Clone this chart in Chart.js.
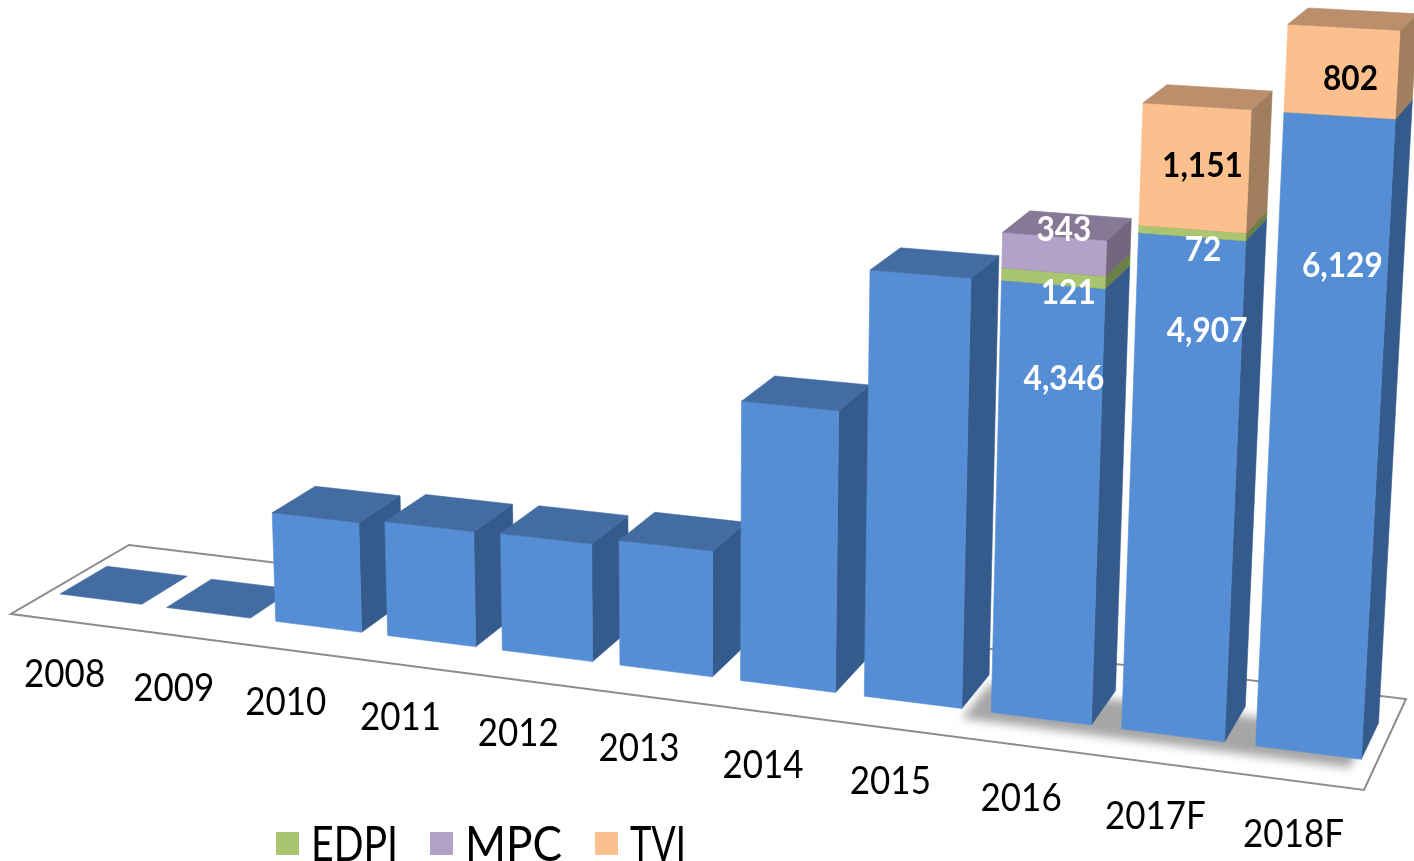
<!DOCTYPE html>
<html>
<head>
<meta charset="utf-8">
<title>Stacked columns</title>
<script src="https://cdn.jsdelivr.net/npm/chart.js@4"></script>
<style>
  html, body { margin: 0; background: #fff; }
  canvas { display: block; }
</style>
</head>
<body>
<canvas id="chart" width="1414" height="861"></canvas>
<script>
const categories = ['2008', '2009', '2010', '2011', '2012', '2013', '2014', '2015', '2016', '2017F', '2018F'];
const baseValues = [0, 0, 1200, 1245, 1260, 1330, 2910, 4340, 4346, 4907, 6129];
const edpiValues = [0, 0, 0, 0, 0, 0, 0, 0, 121, 72, 0];
const mpcValues = [0, 0, 0, 0, 0, 0, 0, 0, 343, 0, 0];
const tviValues = [0, 0, 0, 0, 0, 0, 0, 0, 0, 1151, 802];

// face colours: front, side, top
const faces = [
  ['#558ed5', '#355b8c', '#426ca2'],
  ['#a9c56f', '#6b7f46', '#7f9454'],
  ['#b3a2c7', '#72677f', '#867995'],
  ['#fcc08e', '#a07e5e', '#bb8e6c']
];

// pixel nudge of each value label from the middle of its front face
const labelNudge = {
  '0-8': [17, -126], '0-9': [25, -160], '0-10': [19, -176],
  '1-8': [15, 15], '1-9': [11, 17],
  '2-8': [10, -24],
  '3-9': [8, -2], '3-10': [9, 7]
};

// floor corners on screen, and the point the uprights run towards
const floorQuad = [[11, 614], [1364, 790], [1406, 699], [129, 545]];
const uprightVanish = [694, 13300];
const barFront = 0.30;
const barBack = 0.70;
const axisFont = '38px Lato';
const valueFont = 'bold 34px Lato';
const legendFont = '48px Lato';
// legend: left edge of each swatch and the width of its text
const legendLeft = [276, 430, 595];
const legendTextWidth = [87, 97, 56];

function floorMatrix(q) {
  const [[x0, y0], [x1, y1], [x2, y2], [x3, y3]] = q;
  const dx1 = x1 - x2, dx2 = x3 - x2, sx = x0 - x1 + x2 - x3;
  const dy1 = y1 - y2, dy2 = y3 - y2, sy = y0 - y1 + y2 - y3;
  const den = dx1 * dy2 - dx2 * dy1;
  const g = (sx * dy2 - dx2 * sy) / den;
  const h = (dx1 * sy - sx * dy1) / den;
  return {
    a: x1 - x0 + g * x1, b: x3 - x0 + h * x3, c: x0,
    d: y1 - y0 + g * y1, e: y3 - y0 + h * y3, f: y0,
    g, h
  };
}

const fm = floorMatrix(floorQuad);
let upScale = 0;

// u: 0-1 along the category axis, v: chart value, z: 0-1 floor depth
function project(u, v, z) {
  const w = fm.g * u + fm.h * z + 1 + upScale * v;
  return [
    (fm.a * u + fm.b * z + fm.c + upScale * uprightVanish[0] * v) / w,
    (fm.d * u + fm.e * z + fm.f + upScale * uprightVanish[1] * v) / w
  ];
}

// the top of the 6,129 front face sits at y = 112 on screen
function calibrate(u, v, z, screenY) {
  const y0 = fm.d * u + fm.e * z + fm.f;
  const w0 = fm.g * u + fm.h * z + 1;
  upScale = (y0 - screenY * w0) / (v * (screenY - uprightVanish[1]));
}
calibrate(10.115 / 11, 6129, barFront, 112);

function fillPoly(ctx, pts, color) {
  ctx.beginPath();
  pts.forEach((p, i) => (i ? ctx.lineTo(p[0], p[1]) : ctx.moveTo(p[0], p[1])));
  ctx.closePath();
  ctx.fillStyle = color;
  ctx.strokeStyle = color;
  ctx.lineWidth = 0.6;
  ctx.fill();
  ctx.stroke();
}

const perspectivePlugin = {
  id: 'perspective',
  beforeDatasetsDraw(chart) {
    const { ctx } = chart;
    // floor plate
    ctx.save();
    ctx.beginPath();
    floorQuad.forEach((p, i) => (i ? ctx.lineTo(p[0], p[1]) : ctx.moveTo(p[0], p[1])));
    ctx.closePath();
    ctx.fillStyle = '#fff';
    ctx.fill();
    ctx.strokeStyle = '#8c8c8c';
    ctx.lineWidth = 2;
    ctx.stroke();
    // soft shadow under the three stacked columns
    ctx.filter = 'blur(5px)';
    ctx.beginPath();
    [[0.722, 0.2], [0.985, 0.2], [0.985, 0.6], [0.722, 0.6]].forEach((c, i) => {
      const p = project(c[0], 0, c[1]);
      if (i) { ctx.lineTo(p[0], p[1]); } else { ctx.moveTo(p[0], p[1]); }
    });
    ctx.closePath();
    ctx.fillStyle = '#a6a6a6';
    ctx.fill();
    ctx.restore();
  },
  afterDatasetsDraw(chart) {
    const { ctx, chartArea } = chart;
    const yScale = chart.scales.y;
    const toU = (px) => (px - chartArea.left) / chartArea.width;

    categories.forEach((cat, index) => {
      chart.data.datasets.forEach((ds, di) => {
        if (di > 0 && !ds.data[index]) {
          return;
        }
        const bar = chart.getDatasetMeta(di).data[index];
        const u0 = toU(bar.x - bar.width / 2);
        const u1 = toU(bar.x + bar.width / 2);
        const v0 = yScale.getValueForPixel(bar.base);
        const v1 = yScale.getValueForPixel(bar.y);
        const [front, side, top] = faces[di];
        if (v1 > v0) {
          fillPoly(ctx, [project(u1, v0, barFront), project(u1, v0, barBack), project(u1, v1, barBack), project(u1, v1, barFront)], side);
          fillPoly(ctx, [project(u0, v0, barFront), project(u1, v0, barFront), project(u1, v1, barFront), project(u0, v1, barFront)], front);
        }
        fillPoly(ctx, [project(u0, v1, barFront), project(u1, v1, barFront), project(u1, v1, barBack), project(u0, v1, barBack)], top);
      });
    });

    // value labels
    ctx.save();
    ctx.font = valueFont;
    ctx.textAlign = 'center';
    ctx.textBaseline = 'middle';
    chart.data.datasets.forEach((ds, di) => {
      ds.data.forEach((val, index) => {
        const nudge = labelNudge[`${di}-${index}`];
        if (!nudge) {
          return;
        }
        const bar = chart.getDatasetMeta(di).data[index];
        const mid = (yScale.getValueForPixel(bar.base) + yScale.getValueForPixel(bar.y)) / 2;
        const p = project(toU(bar.x), mid, barFront);
        const text = val.toLocaleString('en-US');
        ctx.fillStyle = di === 3 ? '#000' : '#fff';
        ctx.fillText(text, p[0] + nudge[0], p[1] + nudge[1], ctx.measureText(text).width * 0.93);
      });
    });

    // category labels, just under the front edge of the floor
    ctx.font = axisFont;
    ctx.fillStyle = '#000';
    const xScale = chart.scales.x;
    categories.forEach((cat, index) => {
      const p = project(toU(xScale.getPixelForValue(index)), 0, 0);
      ctx.fillText(cat, p[0], p[1] + 53.5, ctx.measureText(cat).width * 0.92);
    });

    // legend without the blue series
    ctx.font = legendFont;
    ctx.textAlign = 'left';
    ctx.textBaseline = 'alphabetic';
    chart.data.datasets.slice(1).forEach((ds, i) => {
      ctx.fillStyle = ds.backgroundColorLegend;
      ctx.fillRect(legendLeft[i], 832, 23, 23);
      ctx.fillStyle = '#000';
      ctx.fillText(ds.label, legendLeft[i] + 35, 861, legendTextWidth[i]);
    });
    ctx.restore();
  }
};

new Chart(document.getElementById('chart'), {
  type: 'bar',
  data: {
    labels: categories,
    datasets: [
      { label: 'Base', data: baseValues, backgroundColor: 'transparent' },
      { label: 'EDPI', data: edpiValues, backgroundColor: 'transparent', backgroundColorLegend: faces[1][0] },
      { label: 'MPC', data: mpcValues, backgroundColor: 'transparent', backgroundColorLegend: faces[2][0] },
      { label: 'TVI', data: tviValues, backgroundColor: 'transparent', backgroundColorLegend: faces[3][0] }
    ]
  },
  options: {
    responsive: false,
    animation: false,
    events: [],
    layout: { padding: 0 },
    datasets: { bar: { categoryPercentage: 1, barPercentage: 0.77 } },
    plugins: { legend: { display: false }, tooltip: { enabled: false } },
    scales: {
      x: { display: false, stacked: true },
      y: { display: false, stacked: true, min: 0, max: 7000 }
    }
  },
  plugins: [perspectivePlugin]
});
</script>
</body>
</html>
